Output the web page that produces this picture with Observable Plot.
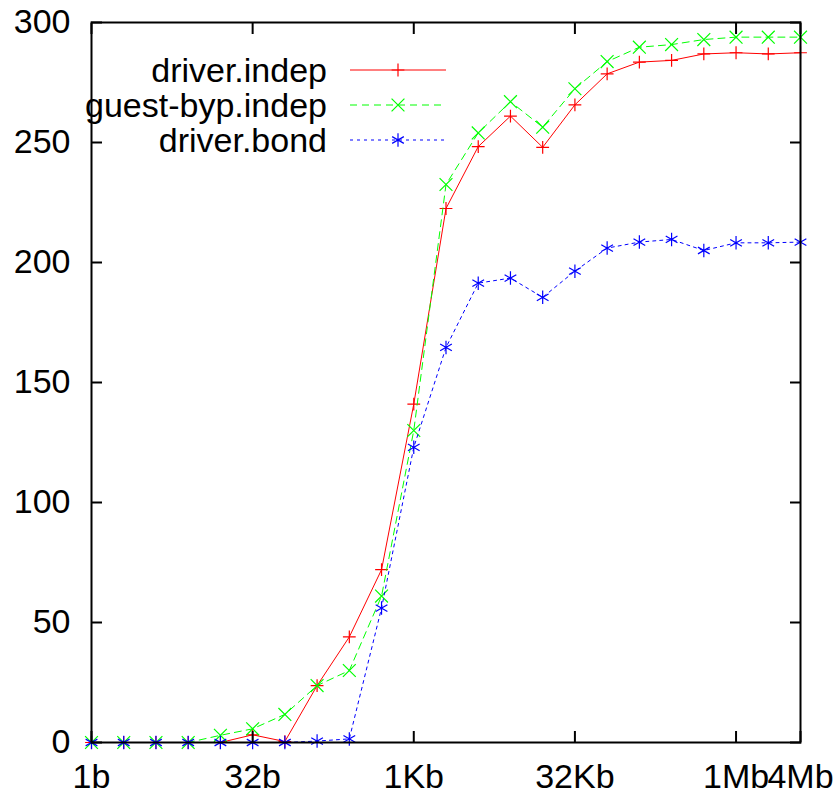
<!DOCTYPE html>
<html><head><meta charset="utf-8">
<script src="https://cdn.jsdelivr.net/npm/d3@7"></script>
<script src="https://cdn.jsdelivr.net/npm/@observablehq/plot@0.6"></script>
<style>
html,body{margin:0;padding:0;background:#fff;}
#chart{position:relative;width:837px;height:795px;}
#chart svg{position:absolute;left:0;top:0;}
</style></head><body><div id="chart"></div>
<script>
const sizes = [1,2,4,8,16,32,64,128,256,512,1024,2048,4096,8192,16384,32768,65536,131072,262144,524288,1048576,2097152,4194304];
const driverIndep   = [0,0,0,0,0,3.2,0.4,23.7,44,72,141,222.5,248.3,261,248,265.7,278.6,283.5,284.2,286.9,287.4,286.9,287.4];
const guestBypIndep = [0,0,0,0,3,5.7,11.7,23.7,30,61,130,232.5,254,267,256.4,272.4,283.7,289.7,290.8,292.9,293.9,293.9,293.9];
const driverBond    = [0,0,0,0,0,0,0,0.6,1.5,56,123,164.6,191.4,193.5,185.5,196.4,206,208.5,209.6,205,208.2,208.2,208.5];
const xTickValues = [1,32,1024,32768,1048576,4194304];
const xTickLabels = ["1b","32b","1Kb","32Kb","1Mb","4Mb"];
const yTickValues = [0,50,100,150,200,250,300];
const seriesNames = ["driver.indep","guest-byp.indep","driver.bond"];
const seriesColors = ["#ff0000","#00ff00","#0000ff"];
const seriesDash = ["none","7,5","3,4"];
const seriesSymbols = ["plus","times","asterisk"];
const seriesR = [4.2,5.9,6.4];

const seriesValues = [driverIndep, guestBypIndep, driverBond];
const FONT = '"Liberation Sans", Arial, Helvetica, sans-serif';

const marks = [];
seriesNames.forEach((name, s) => {
  const d = seriesValues[s].map((v, i) => ({series: name, x: sizes[i], y: v}));
  marks.push(Plot.line(d, {x: "x", y: "y", stroke: seriesColors[s], strokeWidth: 1, strokeDasharray: seriesDash[s]}));
  marks.push(Plot.dot(d, {x: "x", y: "y", symbol: seriesSymbols[s], r: seriesR[s], stroke: seriesColors[s], strokeWidth: 1.2}));
});

const plot = Plot.plot({
  width: 837, height: 795,
  marginLeft: 91, marginRight: 37, marginTop: 22, marginBottom: 53,
  style: {fontFamily: FONT, fontSize: "34px", background: "white", color: "black"},
  x: {type: "log", base: 2, domain: [1, 4194304]},
  y: {type: "linear", domain: [0, 300]},
  marks: [
    ...marks,
    Plot.axisX({ticks: xTickValues, anchor: "bottom", tickSize: -11, tickFormat: () => "", label: null, strokeWidth: 2}),
    Plot.axisX({ticks: xTickValues, anchor: "top", tickSize: -11, tickFormat: () => "", label: null, strokeWidth: 2}),
    Plot.axisX({ticks: xTickValues, anchor: "bottom", tickSize: 0, tickPadding: 21, label: null,
      tickFormat: d => xTickLabels[xTickValues.indexOf(d)], fontSize: 34}),
    Plot.axisY({ticks: yTickValues, anchor: "left", tickSize: -11, tickFormat: () => "", label: null, strokeWidth: 2}),
    Plot.axisY({ticks: yTickValues, anchor: "right", tickSize: -11, tickFormat: () => "", label: null, strokeWidth: 2}),
    Plot.axisY({ticks: yTickValues, anchor: "left", tickSize: 0, tickPadding: 21, label: null, fontSize: 34}),
    Plot.frame({stroke: "black", strokeWidth: 2})
  ]
});
const chart = document.getElementById("chart");
chart.appendChild(plot);

// legend overlay (key)
const leg = d3.select(chart).append("svg").attr("width", 837).attr("height", 795)
  .style("pointer-events", "none");
const rowY = [70, 105, 140];
seriesNames.forEach((name, s) => {
  const g = leg.append("g");
  g.append("text").attr("x", 327).attr("y", rowY[s]).attr("dy", "0.35em")
    .attr("text-anchor", "end").attr("font-family", FONT).attr("font-size", 34).attr("fill", "black").text(name);
  g.append("line").attr("x1", 350).attr("x2", 446).attr("y1", rowY[s]).attr("y2", rowY[s])
    .attr("stroke", seriesColors[s]).attr("stroke-width", 1).attr("stroke-dasharray", seriesDash[s]);
  const sym = {plus: d3.symbolPlus, times: d3.symbolTimes, asterisk: d3.symbolAsterisk}[seriesSymbols[s]];
  g.append("path").attr("d", d3.symbol(sym, Math.PI * seriesR[s] * seriesR[s])())
    .attr("transform", `translate(398,${rowY[s]})`).attr("fill", "none")
    .attr("stroke", seriesColors[s]).attr("stroke-width", 1.2);
});
</script></body></html>
